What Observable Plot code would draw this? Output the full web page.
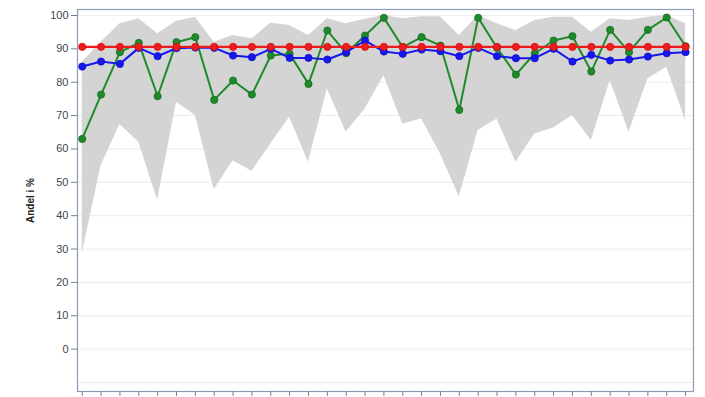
<!DOCTYPE html>
<html>
<head>
<meta charset="utf-8">
<script src="https://cdn.jsdelivr.net/npm/d3@7"></script>
<script src="https://cdn.jsdelivr.net/npm/@observablehq/plot@0.6"></script>
<style>
  html, body { margin: 0; padding: 0; background: #fff; }
  #chart svg { display: block; }
</style>
</head>
<body>
<div id="chart"></div>
<script>
// Periods (33 points along the x axis, no labels)
const periods = [1,2,3,4,5,6,7,8,9,10,11,12,13,14,15,16,17,18,19,20,21,22,23,24,25,26,27,28,29,30,31,32,33];

// Grey band: range (min / max) in %
const bandMax = [86,92,97.5,99,94.5,98.3,99.5,92,94,93,97.7,97,94,99,97.5,98.9,100,99,99.6,99.6,94,100,97.5,95.5,98.5,99.5,99.5,95,99,98.5,99.5,100,97.5];
const bandMin = [28.6,55,67.3,62,44.6,74,70,47.8,56.5,53.3,61.5,69.5,56,78,65,72,82,67.5,69,58.5,45.7,65.5,69,56,64.5,66.3,70,62.5,80.5,65,81,84.5,68.5];

// Red series (target level)
const redValues = [90.6,90.6,90.6,90.6,90.6,90.6,90.6,90.6,90.6,90.6,90.6,90.6,90.6,90.6,90.6,90.6,90.6,90.6,90.6,90.6,90.6,90.6,90.6,90.6,90.6,90.6,90.6,90.6,90.6,90.6,90.6,90.6,90.6];
// Blue series
const blueValues = [84.7,86.2,85.5,90.3,87.8,90.2,90.4,90.3,88,87.5,90,87.3,87.3,86.8,89,92.5,89.2,88.5,89.8,89.3,87.8,90.3,87.8,87.2,87.2,90,86.2,88.2,86.5,86.8,87.7,88.7,89];
// Green series
const greenValues = [63,76.3,89,91.8,75.8,92,93.5,74.7,80.5,76.3,88,88.5,79.5,95.5,88.7,94,99.3,90.5,93.5,91,71.7,99.3,90.3,82.3,88.6,92.5,93.8,83.2,95.7,89,95.7,99.4,90.8];

// Y-axis ticks and gridlines
const yTicks = [0,10,20,30,40,50,60,70,80,90,100];
const gridLines = [-10,0,10,20,30,40,50,60,70,80,90,100];
const yLabel = "Andel i %";

const rows = periods.map((p, i) => ({
  period: p,
  min: bandMin[i],
  max: bandMax[i],
  red: redValues[i],
  blue: blueValues[i],
  green: greenValues[i]
}));

const frameColor = "#8e9cb6";
const RED = "#ee1c1c", BLUE = "#1616f0", GREEN = "#1f8a2a";

const chart = Plot.plot({
  width: 705,
  height: 397,
  marginLeft: 77,
  marginRight: 12,
  marginTop: 9,
  marginBottom: 6,
  style: { fontFamily: "'Liberation Sans', Arial, sans-serif", background: "#fff" },
  x: { type: "linear", domain: [0.75, 33.42] },
  y: { domain: [-12.7, 101.8] },
  marks: [
    Plot.ruleY(gridLines, { stroke: "#ebebeb", strokeWidth: 1 }),
    Plot.areaY(rows, { x: "period", y1: "min", y2: "max", fill: "#d4d4d4", curve: "linear" }),
    Plot.line(rows, { x: "period", y: "green", stroke: GREEN, strokeWidth: 2 }),
    Plot.dot(rows, { x: "period", y: "green", r: 3.6, fill: GREEN, stroke: "#17701f", strokeWidth: 0.8 }),
    Plot.line(rows, { x: "period", y: "blue", stroke: BLUE, strokeWidth: 2 }),
    Plot.dot(rows, { x: "period", y: "blue", r: 3.6, fill: BLUE, stroke: "#1010c0", strokeWidth: 0.8 }),
    Plot.line(rows, { x: "period", y: "red", stroke: RED, strokeWidth: 2.2 }),
    Plot.dot(rows, { x: "period", y: "red", r: 3.6, fill: RED, stroke: "#d01010", strokeWidth: 0.8 }),
    Plot.frame({ stroke: frameColor, strokeWidth: 1.2 }),
    Plot.axisY({
      ticks: yTicks,
      tickSize: 6,
      tickPadding: 3,
      stroke: "#6f7f99",
      fill: "#444",
      fontSize: 11,
      label: null
    }),
    Plot.axisX({
      ticks: periods,
      tickSize: 5,
      tickFormat: () => "",
      stroke: "#6f7f99",
      label: null
    }),
    Plot.text([yLabel], {
      frameAnchor: "left",
      dx: -47,
      rotate: -90,
      fontSize: 10,
      fontWeight: "bold",
      fill: "#222",
      textAnchor: "middle"
    })
  ]
});

document.getElementById("chart").appendChild(chart);
</script>
</body>
</html>
